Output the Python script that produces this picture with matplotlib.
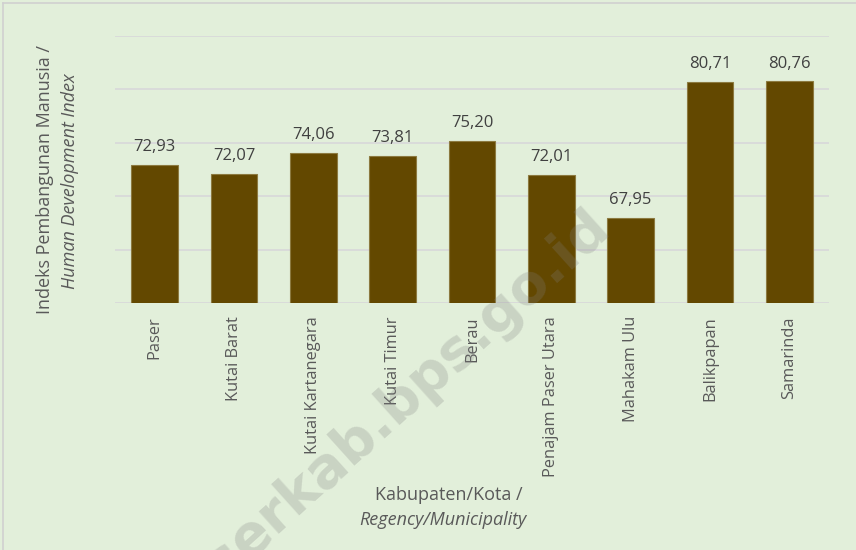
import matplotlib
matplotlib.use("Agg")
import matplotlib.pyplot as plt
from matplotlib.lines import Line2D

# Human Development Index by regency / municipality
regions = ["Paser", "Kutai Barat", "Kutai Kartanegara", "Kutai Timur", "Berau",
           "Penajam Paser Utara", "Mahakam Ulu", "Balikpapan", "Samarinda"]
hdi = [72.93, 72.07, 74.06, 73.81, 75.20, 72.01, 67.95, 80.71, 80.76]
y_ticks = [60, 65, 70, 75, 80, 85]

BG = "#E2EFDA"
BAR = "#634800"
TXT = "#595959"
FONT = ["Open Sans", "DejaVu Sans"]

plt.rcParams["font.family"] = FONT

fig = plt.figure(figsize=(8.56, 5.50), dpi=100, facecolor=BG)
ax = fig.add_axes([115 / 856, 1 - 303 / 550, 714 / 856, 267 / 550])
ax.set_facecolor(BG)

x = range(len(regions))
bars = ax.bar(x, hdi, width=0.59, color=BAR, edgecolor="#8C7A40",
              linewidth=0.8, zorder=3)

ax.set_ylim(y_ticks[0], y_ticks[-1])
ax.set_xlim(-0.5, len(regions) - 0.5)
ax.set_yticks(y_ticks)
ax.yaxis.grid(True, color="#D9D9D9", linewidth=1.3, zorder=0)
ax.tick_params(axis="y", left=False, labelleft=False)
ax.tick_params(axis="x", bottom=False, pad=6)
for s in ax.spines.values():
    s.set_visible(False)

ax.set_xticks(list(x))
ax.set_xticklabels(regions, rotation=90, fontsize=11.8, color=TXT, va="top")

for xi, v in zip(x, hdi):
    ax.annotate(f"{v:.2f}".replace(".", ","), (xi, v), xytext=(0, 7),
                textcoords="offset points", ha="center", va="bottom",
                fontsize=12, color="#404040", zorder=4)

# axis titles (second line in italics)
fig.text(45 / 856, 1 - 179 / 550, "Indeks Pembangunan Manusia /", rotation=90,
         ha="center", va="center", fontsize=13, color=TXT)
fig.text(70 / 856, 1 - 181 / 550, "Human Development Index", rotation=90,
         ha="center", va="center", fontsize=13, color=TXT, style="italic")
fig.text(449 / 856, 1 - 495 / 550, "Kabupaten/Kota /", ha="center",
         va="center", fontsize=13, color=TXT)
fig.text(443 / 856, 1 - 520 / 550, "Regency/Municipality", ha="center",
         va="center", fontsize=13, color=TXT, style="italic")

# watermark
fig.text(612 / 856, 1 - 230 / 550, "paserkab.bps.go.id", rotation=42,
         rotation_mode="anchor", ha="right", va="baseline", fontsize=40,
         fontweight="bold", family="DejaVu Sans", color="#808080",
         alpha=0.25, zorder=10)

# chart-area frame (top and left edges)
fig.add_artist(Line2D([3 / 856, 1], [1 - 3 / 550, 1 - 3 / 550],
                      transform=fig.transFigure, color="#D0D0D0", lw=1.2))
fig.add_artist(Line2D([3 / 856, 3 / 856], [0, 1 - 3 / 550],
                      transform=fig.transFigure, color="#D0D0D0", lw=1.2))

fig.savefig("out.png", dpi=100, facecolor=BG)
